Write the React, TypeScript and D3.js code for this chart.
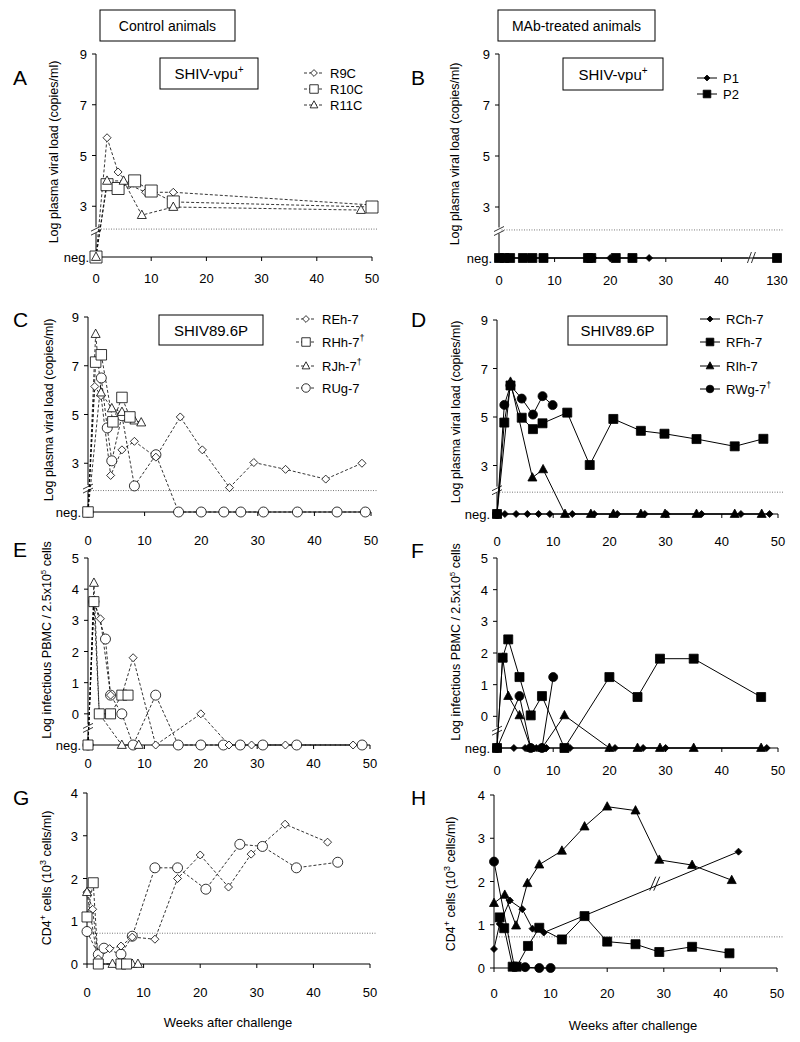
import React from "react";
import * as d3 from "d3";

const NEG = "neg";
const FONT = "'Liberation Sans', Arial, Helvetica, sans-serif";

// ---------- shared tick labels ----------
const WEEK_TICKS = [0, 10, 20, 30, 40, 50];
const B_WEEK_TICKS = [0, 10, 20, 30, 40, 130];
const VL_TICKS = [3, 5, 7, 9];
const PBMC_TICKS = [0, 1, 2, 3, 4, 5];
const CD4_TICKS = [0, 1, 2, 3, 4];

// ---------- Panel A (control, SHIV-vpu+) ----------
const A_R9C_W = [0, 2, 4, 6, 9, 14, 50];
const A_R9C_V = [NEG, 5.7, 4.35, 3.85, 3.55, 3.55, 3.05];
const A_R10C_W = [0, 2, 4, 7, 10, 14, 50];
const A_R10C_V = [NEG, 3.85, 3.7, 4.0, 3.6, 3.17, 2.97];
const A_R11C_W = [0, 2, 5, 8.3, 14, 48];
const A_R11C_V = [NEG, 4.0, 4.0, 2.65, 2.97, 2.85];

// ---------- Panel B (MAb, SHIV-vpu+) ----------
const B_P1_W = [0, 1, 2, 5, 17, 20, 27];
const B_P1_V = [NEG, NEG, NEG, NEG, NEG, NEG, NEG];
const B_P2_W = [0, 1, 2, 4.3, 6, 8, 16, 16.6, 21, 24, 130];
const B_P2_V = [NEG, NEG, NEG, NEG, NEG, NEG, NEG, NEG, NEG, NEG, NEG];

// ---------- Panel C (control, SHIV89.6P plasma) ----------
const C_REH_W = [0, 1.2, 2.3, 4, 6, 8.2, 12, 16.3, 20.2, 25, 29.3, 34.9, 42, 48.4];
const C_REH_V = [NEG, 6.15, 5.77, 2.5, 3.55, 3.9, 3.25, 4.9, 3.55, 2.0, 3.03, 2.75, 2.35, 3.0];
const C_RHH_W = [0, 1.35, 2.35, 4.4, 6, 7.4];
const C_RHH_V = [NEG, 7.15, 7.45, 4.7, 5.7, 4.9];
const C_RJH_W = [0, 1.35, 2.3, 4.2, 6, 8.2, 9.4];
const C_RJH_V = [NEG, 8.3, 5.9, 5.25, 5.1, 4.75, 4.67];
const C_RUG_W = [0, 2.35, 3.4, 4.2, 6, 8.2, 12, 16, 20, 24, 27, 31, 37, 44, 49];
const C_RUG_V = [NEG, 6.5, 4.45, 3.1, 4.95, 2.07, 3.35, NEG, NEG, NEG, NEG, NEG, NEG, NEG, NEG];

// ---------- Panel D (MAb, SHIV89.6P plasma) ----------
const D_RCH_W = [0, 1.4, 3.4, 5.4, 7.4, 9.4, 13.4, 17.3, 21.4, 26.3, 30.2, 36.4, 43.4, 48.5];
const D_RCH_V = [NEG, NEG, NEG, NEG, NEG, NEG, NEG, NEG, NEG, NEG, NEG, NEG, NEG, NEG];
const D_RFH_W = [0, 1.3, 2.4, 4.4, 6.4, 8.1, 12.5, 16.5, 20.7, 25.6, 29.8, 35.5, 42.3, 47.4];
const D_RFH_V = [NEG, 4.77, 6.3, 4.97, 4.5, 4.74, 5.18, 3.02, 4.92, 4.43, 4.31, 4.09, 3.79, 4.1];
const D_RIH_W = [0, 2.4, 6.3, 8.2, 12.1, 16.7, 20.7, 25.6, 29.9, 35.5, 42.3, 47.1];
const D_RIH_V = [NEG, 6.45, 2.5, 2.84, NEG, NEG, NEG, NEG, NEG, NEG, NEG, NEG];
const D_RWG_W = [0, 1.3, 2.4, 4.4, 6.4, 8.1, 9.9];
const D_RWG_V = [NEG, 5.5, 6.3, 5.76, 5.1, 5.86, 5.49];

// ---------- Panel E (control, infectious PBMC) ----------
const E_REH_W = [0, 1.05, 2.2, 4, 6, 8, 12, 20, 25, 29, 35, 47];
const E_REH_V = [NEG, 3.6, 3.05, 0.6, 0.6, 1.8, NEG, 0, NEG, NEG, NEG, NEG];
const E_RHH_W = [0, 1.05, 2, 4, 6, 7.1];
const E_RHH_V = [NEG, 3.6, 0, 0, 0.6, 0.6];
const E_RJH_W = [0, 1.05, 2, 6, 9];
const E_RJH_V = [NEG, 4.2, 0, NEG, NEG];
const E_RUG_W = [0, 1.05, 3.1, 4, 6, 8, 12, 16, 20, 24, 27, 31, 37, 48.6];
const E_RUG_V = [NEG, 3.6, 2.4, 0.6, 0, NEG, 0.6, NEG, NEG, NEG, NEG, NEG, NEG, NEG];

// ---------- Panel F (MAb, infectious PBMC) ----------
const F_RCH_W = [0, 3, 5, 6, 7, 8.8, 13, 21, 26, 30, 48];
const F_RCH_V = [NEG, NEG, NEG, NEG, NEG, NEG, NEG, NEG, NEG, NEG, NEG];
const F_RFH_W = [0, 1, 2, 4, 6, 8, 12, 20, 25, 29, 35, 47];
const F_RFH_V = [NEG, 1.85, 2.43, 1.24, 0.03, 0.64, NEG, 1.24, 0.61, 1.82, 1.82, 0.61];
const F_RIH_W = [0, 1, 2, 4, 6, 8, 12, 20, 25, 29, 35, 47];
const F_RIH_V = [NEG, 1.85, 0.64, 0.03, NEG, NEG, 0.03, NEG, NEG, NEG, NEG, NEG];
const F_RWG_W = [0, 4, 6, 8, 10];
const F_RWG_V = [NEG, 0.64, NEG, NEG, 1.24];

// ---------- Panel G (control, CD4) ----------
const G_REH_W = [0, 1, 2, 4, 6, 8, 12, 16, 20, 25, 29, 35, 42.5];
const G_REH_V = [1.68, 1.28, 0.12, 0.36, 0.42, 0.63, 0.58, 2.0, 2.55, 1.8, 2.57, 3.27, 2.85];
const G_RHH_W = [0, 1.1, 2, 6, 7];
const G_RHH_V = [1.1, 1.9, 0, 0, 0];
const G_RJH_W = [0, 2, 4.5, 6.5, 8, 9];
const G_RJH_V = [1.68, 0, 0, 0, 0, 0];
const G_RUG_W = [0, 2, 3, 6, 8, 12, 16, 21, 27, 31, 37, 44.3];
const G_RUG_V = [0.76, 0.22, 0.37, 0.23, 0.65, 2.25, 2.25, 1.75, 2.8, 2.75, 2.25, 2.38];

// ---------- Panel H (MAb, CD4) ----------
const H_RCH_W = [0, 1, 2.8, 5, 6.8, 8.8, 43.2];
const H_RCH_V = [0.44, 1.02, 1.56, 1.36, 0.91, 0.82, 2.69];
const H_RFH_W = [1, 1.8, 3.3, 4, 6, 8, 12, 16, 20, 25, 29.2, 35, 41.6];
const H_RFH_V = [1.17, 0.92, 0.03, 0.03, 0.51, 0.93, 0.66, 1.2, 0.61, 0.55, 0.37, 0.49, 0.34];
const H_RIH_W = [0, 1.9, 3.9, 5.9, 8, 12, 16, 20, 25, 29.2, 35, 42];
const H_RIH_V = [1.5, 1.69, 0.98, 1.96, 2.39, 2.71, 3.27, 3.73, 3.64, 2.5, 2.38, 2.03];
const H_RWG_W = [0, 3.6, 5.5, 8, 10];
const H_RWG_V = [2.46, 0.03, 0.02, 0, 0];

type Shape = "diamond" | "square" | "triangle" | "circle";
type Series = { w: number[]; v: (number | string)[]; shape: Shape };

function markerPath(shape: Shape, s: number) {
  const h = s / 2;
  switch (shape) {
    case "diamond":
      return `M0,${-h}L${h},0L0,${h}L${-h},0Z`;
    case "square":
      return `M${-h},${-h}H${h}V${h}H${-h}Z`;
    case "triangle":
      return `M0,${-h * 1.1}L${h},${h * 0.75}L${-h},${h * 0.75}Z`;
    default:
      return d3.arc()({ innerRadius: 0, outerRadius: h, startAngle: 0, endAngle: Math.PI * 2 }) as string;
  }
}

const SIZES_OPEN: Record<Shape, number> = { diamond: 8, square: 10, triangle: 9, circle: 10 };
const SIZES_FILLED: Record<Shape, number> = { diamond: 7, square: 9, triangle: 9, circle: 9 };

function Marker({ shape, cx, cy, filled, big }: { shape: Shape; cx: number; cy: number; filled: boolean; big?: number }) {
  const s = (filled ? SIZES_FILLED[shape] : SIZES_OPEN[shape]) * (big || 1);
  return (
    <path
      d={markerPath(shape, s)}
      transform={`translate(${cx},${cy})`}
      fill={filled ? "#000" : "#fff"}
      stroke="#000"
      strokeWidth={0.8}
    />
  );
}

type LegendItem = { label: string; sup?: string; shape: Shape };

type PanelCfg = {
  letter: string;
  letterPos: [number, number];
  xDomain: number[];
  xRange: number[];
  xTicks: number[];
  xLabelY: number;
  yDomain: [number, number];
  yRange: [number, number];
  yTicks: number[];
  neg: boolean;
  dotted?: number;
  yBreak?: number;
  xBreak?: number;
  filled: boolean;
  series: Series[];
  yTitle: React.ReactNode;
  yTitlePos: [number, number];
  titleBox?: { x: number; y: number; w: number; h: number; text: React.ReactNode };
  legend?: { x: number; ys: number[]; items: LegendItem[] };
  lineBreak?: [number, number];
  sqScale?: number;
};

function Panel({ cfg }: { cfg: PanelCfg }) {
  const x = d3.scaleLinear().domain(cfg.xDomain).range(cfg.xRange);
  const y = d3.scaleLinear().domain(cfg.yDomain).range(cfg.yRange);
  const base = cfg.yDomain[0];
  const val = (v: number | string) => (v === NEG ? base : (v as number));
  const line = d3
    .line<[number, number]>()
    .x((d) => x(d[0]))
    .y((d) => y(d[1]));
  const ax = cfg.xRange[0];
  const yBottom = y(base);
  const yTop = y(cfg.yTicks[cfg.yTicks.length - 1]);
  const xEnd = x(cfg.xTicks[cfg.xTicks.length - 1]);
  const dash = cfg.filled ? undefined : "3,2";

  return (
    <g>
      <text x={cfg.letterPos[0]} y={cfg.letterPos[1]} fontSize={21} fontFamily={FONT}>
        {cfg.letter}
      </text>
      {/* y axis */}
      <line x1={ax} x2={ax} y1={yTop} y2={yBottom} stroke="#000" strokeWidth={1} />
      {cfg.yTicks.map((t) => (
        <g key={"yt" + t}>
          <line x1={ax - 4} x2={ax} y1={y(t)} y2={y(t)} stroke="#000" />
          <text x={ax - 9} y={y(t) + 5} textAnchor="end" fontSize={13} fontFamily={FONT}>
            {t}
          </text>
        </g>
      ))}
      {cfg.neg && (
        <g>
          <line x1={ax - 4} x2={ax} y1={yBottom} y2={yBottom} stroke="#000" />
          <text x={ax - 7} y={yBottom + 5} textAnchor="end" fontSize={13} fontFamily={FONT}>
            neg.
          </text>
        </g>
      )}
      {/* x axis */}
      <line x1={ax} x2={xEnd} y1={yBottom} y2={yBottom} stroke="#000" strokeWidth={1} />
      {cfg.xTicks.map((t) => (
        <g key={"xt" + t}>
          <line x1={x(t)} x2={x(t)} y1={yBottom} y2={yBottom + 4} stroke="#000" />
          <text x={x(t)} y={cfg.xLabelY} textAnchor="middle" fontSize={13} fontFamily={FONT}>
            {t}
          </text>
        </g>
      ))}
      {cfg.dotted !== undefined && (
        <line
          x1={ax}
          x2={xEnd + 6}
          y1={y(cfg.dotted)}
          y2={y(cfg.dotted)}
          stroke="#555"
          strokeWidth={0.8}
          strokeDasharray="1,1.5"
        />
      )}
      {cfg.yBreak !== undefined && (
        <g stroke="#000" strokeWidth={0.8}>
          <rect x={ax - 2} y={y(cfg.yBreak) - 5} width={4} height={6} fill="#fff" stroke="none" />
          <line x1={ax - 5} x2={ax + 5} y1={y(cfg.yBreak) - 1} y2={y(cfg.yBreak) - 6} />
          <line x1={ax - 5} x2={ax + 5} y1={y(cfg.yBreak) + 3} y2={y(cfg.yBreak) - 2} />
        </g>
      )}
      {cfg.xBreak !== undefined && (
        <g stroke="#000" strokeWidth={0.8}>
          <rect x={x(cfg.xBreak) - 3} y={yBottom - 2} width={5} height={4} fill="#fff" stroke="none" />
          <line x1={x(cfg.xBreak) - 4} x2={x(cfg.xBreak)} y1={yBottom + 5} y2={yBottom - 6} />
          <line x1={x(cfg.xBreak)} x2={x(cfg.xBreak) + 4} y1={yBottom + 5} y2={yBottom - 6} />
        </g>
      )}
      {/* series lines */}
      {cfg.series.map((s, i) => {
        const pts = s.w.map((w, j) => [w, val(s.v[j])] as [number, number]);
        return (
          <path
            key={"l" + i}
            d={line(pts) as string}
            fill="none"
            stroke="#000"
            strokeWidth={cfg.filled ? 1 : 0.8}
            strokeDasharray={dash}
          />
        );
      })}
      {cfg.lineBreak && (
        <g stroke="#000" strokeWidth={0.9}>
          <line
            x1={x(cfg.lineBreak[0]) - 5}
            x2={x(cfg.lineBreak[0]) + 1}
            y1={y(cfg.lineBreak[1]) + 7}
            y2={y(cfg.lineBreak[1]) - 7}
          />
          <line
            x1={x(cfg.lineBreak[0]) - 1}
            x2={x(cfg.lineBreak[0]) + 5}
            y1={y(cfg.lineBreak[1]) + 7}
            y2={y(cfg.lineBreak[1]) - 7}
          />
        </g>
      )}
      {/* markers */}
      {cfg.series.map((s, i) =>
        s.w.map((w, j) => (
          <Marker
            key={"m" + i + "_" + j}
            shape={s.shape}
            cx={x(w)}
            cy={y(val(s.v[j]))}
            filled={cfg.filled}
            big={s.shape === "square" ? cfg.sqScale : 1}
          />
        ))
      )}
      {/* y title */}
      <text
        transform={`translate(${cfg.yTitlePos[0]},${cfg.yTitlePos[1]}) rotate(-90)`}
        textAnchor="middle"
        fontSize={12.5}
        fontFamily={FONT}
      >
        {cfg.yTitle}
      </text>
      {cfg.titleBox && (
        <g>
          <rect
            x={cfg.titleBox.x}
            y={cfg.titleBox.y}
            width={cfg.titleBox.w}
            height={cfg.titleBox.h}
            fill="#fff"
            stroke="#000"
            strokeWidth={1}
          />
          <text
            x={cfg.titleBox.x + cfg.titleBox.w / 2}
            y={cfg.titleBox.y + cfg.titleBox.h / 2 + 5.5}
            textAnchor="middle"
            fontSize={15}
            fontFamily={FONT}
          >
            {cfg.titleBox.text}
          </text>
        </g>
      )}
      {cfg.legend &&
        cfg.legend.items.map((it, i) => {
          const ly = cfg.legend!.ys[i];
          const lx = cfg.legend!.x;
          return (
            <g key={"lg" + i}>
              <line
                x1={lx}
                x2={lx + 20}
                y1={ly}
                y2={ly}
                stroke="#000"
                strokeWidth={cfg.filled ? 1 : 0.8}
                strokeDasharray={dash}
              />
              <Marker shape={it.shape} cx={lx + 10} cy={ly} filled={cfg.filled} big={0.85} />
              <text x={lx + 26} y={ly + 5} fontSize={13} fontFamily={FONT}>
                {it.label}
                {it.sup && (
                  <tspan fontSize={9} dy={-6}>
                    {it.sup}
                  </tspan>
                )}
              </text>
            </g>
          );
        })}
    </g>
  );
}

const VL_TITLE = "Log plasma viral load (copies/ml)";
const PBMC_TITLE = (
  <>
    Log infectious PBMC / 2.5x10
    <tspan fontSize={8} dy={-5}>
      5
    </tspan>
    <tspan dy={5}> cells</tspan>
  </>
);
const CD4_TITLE = (
  <>
    CD4
    <tspan fontSize={9} dy={-5}>
      +
    </tspan>
    <tspan dy={5}> cells (10</tspan>
    <tspan fontSize={9} dy={-5}>
      3
    </tspan>
    <tspan dy={5}> cells/ml)</tspan>
  </>
);
const VPU_TITLE = (
  <>
    SHIV-vpu
    <tspan fontSize={10} dy={-6}>
      +
    </tspan>
  </>
);

const CTRL4: LegendItem[] = [
  { label: "REh-7", shape: "diamond" },
  { label: "RHh-7", sup: "†", shape: "square" },
  { label: "RJh-7", sup: "†", shape: "triangle" },
  { label: "RUg-7", shape: "circle" },
];
const MAB4: LegendItem[] = [
  { label: "RCh-7", shape: "diamond" },
  { label: "RFh-7", shape: "square" },
  { label: "RIh-7", shape: "triangle" },
  { label: "RWg-7", sup: "†", shape: "circle" },
];

const panels: PanelCfg[] = [
  {
    letter: "A",
    letterPos: [13, 85],
    xDomain: [0, 50],
    xRange: [96, 372],
    xTicks: WEEK_TICKS,
    xLabelY: 283,
    yDomain: [1, 9],
    yRange: [257, 54],
    yTicks: VL_TICKS,
    neg: true,
    dotted: 2.1,
    yBreak: 1.98,
    filled: false,
    sqScale: 1.2,
    series: [
      { w: A_R9C_W, v: A_R9C_V, shape: "diamond" },
      { w: A_R10C_W, v: A_R10C_V, shape: "square" },
      { w: A_R11C_W, v: A_R11C_V, shape: "triangle" },
    ],
    yTitle: VL_TITLE,
    yTitlePos: [58, 152],
    titleBox: { x: 160, y: 58, w: 98, h: 31, text: VPU_TITLE },
    legend: {
      x: 304,
      ys: [73, 89, 105],
      items: [
        { label: "R9C", shape: "diamond" },
        { label: "R10C", shape: "square" },
        { label: "R11C", shape: "triangle" },
      ],
    },
  },
  {
    letter: "B",
    letterPos: [411, 85],
    xDomain: [0, 46, 130],
    xRange: [499, 499 + 46 * 5.56, 777],
    xTicks: B_WEEK_TICKS,
    xLabelY: 285,
    yDomain: [1, 9],
    yRange: [258, 54],
    yTicks: VL_TICKS,
    neg: true,
    dotted: 2.1,
    yBreak: 2.0,
    xBreak: 45.4,
    filled: true,
    series: [
      { w: B_P1_W, v: B_P1_V, shape: "diamond" },
      { w: B_P2_W, v: B_P2_V, shape: "square" },
    ],
    yTitle: VL_TITLE,
    yTitlePos: [459, 154],
    titleBox: { x: 563, y: 58, w: 100, h: 32, text: VPU_TITLE },
    legend: {
      x: 697,
      ys: [78, 94],
      items: [
        { label: "P1", shape: "diamond" },
        { label: "P2", shape: "square" },
      ],
    },
  },
  {
    letter: "C",
    letterPos: [13, 327],
    xDomain: [0, 50],
    xRange: [88, 371],
    xTicks: WEEK_TICKS,
    xLabelY: 545,
    yDomain: [1, 9],
    yRange: [512, 317],
    yTicks: VL_TICKS,
    neg: true,
    dotted: 1.88,
    yBreak: 1.9,
    filled: false,
    sqScale: 1.05,
    series: [
      { w: C_RUG_W, v: C_RUG_V, shape: "circle" },
      { w: C_REH_W, v: C_REH_V, shape: "diamond" },
      { w: C_RJH_W, v: C_RJH_V, shape: "triangle" },
      { w: C_RHH_W, v: C_RHH_V, shape: "square" },
    ],
    yTitle: VL_TITLE,
    yTitlePos: [53, 410],
    titleBox: { x: 159, y: 315, w: 104, h: 30, text: "SHIV89.6P" },
    legend: { x: 296, ys: [319, 342, 366, 388], items: CTRL4 },
  },
  {
    letter: "D",
    letterPos: [411, 327],
    xDomain: [0, 50],
    xRange: [497, 778],
    xTicks: WEEK_TICKS,
    xLabelY: 546,
    yDomain: [1, 9],
    yRange: [514, 320],
    yTicks: VL_TICKS,
    neg: true,
    dotted: 1.9,
    yBreak: 1.92,
    filled: true,
    series: [
      { w: D_RCH_W, v: D_RCH_V, shape: "diamond" },
      { w: D_RFH_W, v: D_RFH_V, shape: "square" },
      { w: D_RIH_W, v: D_RIH_V, shape: "triangle" },
      { w: D_RWG_W, v: D_RWG_V, shape: "circle" },
    ],
    yTitle: VL_TITLE,
    yTitlePos: [460, 412],
    titleBox: { x: 568, y: 316, w: 99, h: 29, text: "SHIV89.6P" },
    legend: { x: 700, ys: [319, 342, 366, 389], items: MAB4 },
  },
  {
    letter: "E",
    letterPos: [13, 557],
    xDomain: [0, 50],
    xRange: [88, 370],
    xTicks: WEEK_TICKS,
    xLabelY: 768,
    yDomain: [-1, 5],
    yRange: [745, 558],
    yTicks: PBMC_TICKS,
    neg: true,
    yBreak: -0.5,
    filled: false,
    series: [
      { w: E_RUG_W, v: E_RUG_V, shape: "circle" },
      { w: E_REH_W, v: E_REH_V, shape: "diamond" },
      { w: E_RJH_W, v: E_RJH_V, shape: "triangle" },
      { w: E_RHH_W, v: E_RHH_V, shape: "square" },
    ],
    yTitle: PBMC_TITLE,
    yTitlePos: [51, 640],
  },
  {
    letter: "F",
    letterPos: [411, 558],
    xDomain: [0, 50],
    xRange: [497, 778],
    xTicks: WEEK_TICKS,
    xLabelY: 775,
    yDomain: [-1, 5],
    yRange: [748, 558],
    yTicks: PBMC_TICKS,
    neg: true,
    yBreak: -0.5,
    filled: true,
    series: [
      { w: F_RCH_W, v: F_RCH_V, shape: "diamond" },
      { w: F_RFH_W, v: F_RFH_V, shape: "square" },
      { w: F_RIH_W, v: F_RIH_V, shape: "triangle" },
      { w: F_RWG_W, v: F_RWG_V, shape: "circle" },
    ],
    yTitle: PBMC_TITLE,
    yTitlePos: [460, 642],
  },
  {
    letter: "G",
    letterPos: [13, 805],
    xDomain: [0, 50],
    xRange: [87, 370],
    xTicks: WEEK_TICKS,
    xLabelY: 997,
    yDomain: [0, 4],
    yRange: [964, 793],
    yTicks: CD4_TICKS,
    neg: false,
    dotted: 0.72,
    filled: false,
    series: [
      { w: G_RUG_W, v: G_RUG_V, shape: "circle" },
      { w: G_REH_W, v: G_REH_V, shape: "diamond" },
      { w: G_RJH_W, v: G_RJH_V, shape: "triangle" },
      { w: G_RHH_W, v: G_RHH_V, shape: "square" },
    ],
    yTitle: CD4_TITLE,
    yTitlePos: [51, 878],
  },
  {
    letter: "H",
    letterPos: [411, 805],
    xDomain: [0, 50],
    xRange: [494, 777],
    xTicks: WEEK_TICKS,
    xLabelY: 998,
    yDomain: [0, 4],
    yRange: [968, 795],
    yTicks: CD4_TICKS,
    neg: false,
    dotted: 0.72,
    filled: true,
    lineBreak: [28.4, 1.95],
    series: [
      { w: H_RCH_W, v: H_RCH_V, shape: "diamond" },
      { w: H_RFH_W, v: H_RFH_V, shape: "square" },
      { w: H_RIH_W, v: H_RIH_V, shape: "triangle" },
      { w: H_RWG_W, v: H_RWG_V, shape: "circle" },
    ],
    yTitle: CD4_TITLE,
    yTitlePos: [455, 884],
  },
];

export default function App() {
  return (
    <svg
      width={800}
      height={1042}
      style={{ position: "absolute", left: 0, top: 0, background: "#fff" }}
      fontFamily={FONT}
    >
      <rect x={0} y={0} width={800} height={1042} fill="#fff" />
      <rect x={100} y={10} width={135} height={31} fill="#fff" stroke="#000" />
      <text x={167.5} y={30.5} textAnchor="middle" fontSize={14} fontFamily={FONT}>
        Control animals
      </text>
      <rect x={498} y={10} width={157} height={31} fill="#fff" stroke="#000" />
      <text x={576.5} y={30.5} textAnchor="middle" fontSize={14} fontFamily={FONT}>
        MAb-treated animals
      </text>
      {panels.map((p) => (
        <Panel key={p.letter} cfg={p} />
      ))}
      <text x={228} y={1027} textAnchor="middle" fontSize={13} fontFamily={FONT}>
        Weeks after challenge
      </text>
      <text x={633} y={1030} textAnchor="middle" fontSize={13} fontFamily={FONT}>
        Weeks after challenge
      </text>
    </svg>
  );
}
